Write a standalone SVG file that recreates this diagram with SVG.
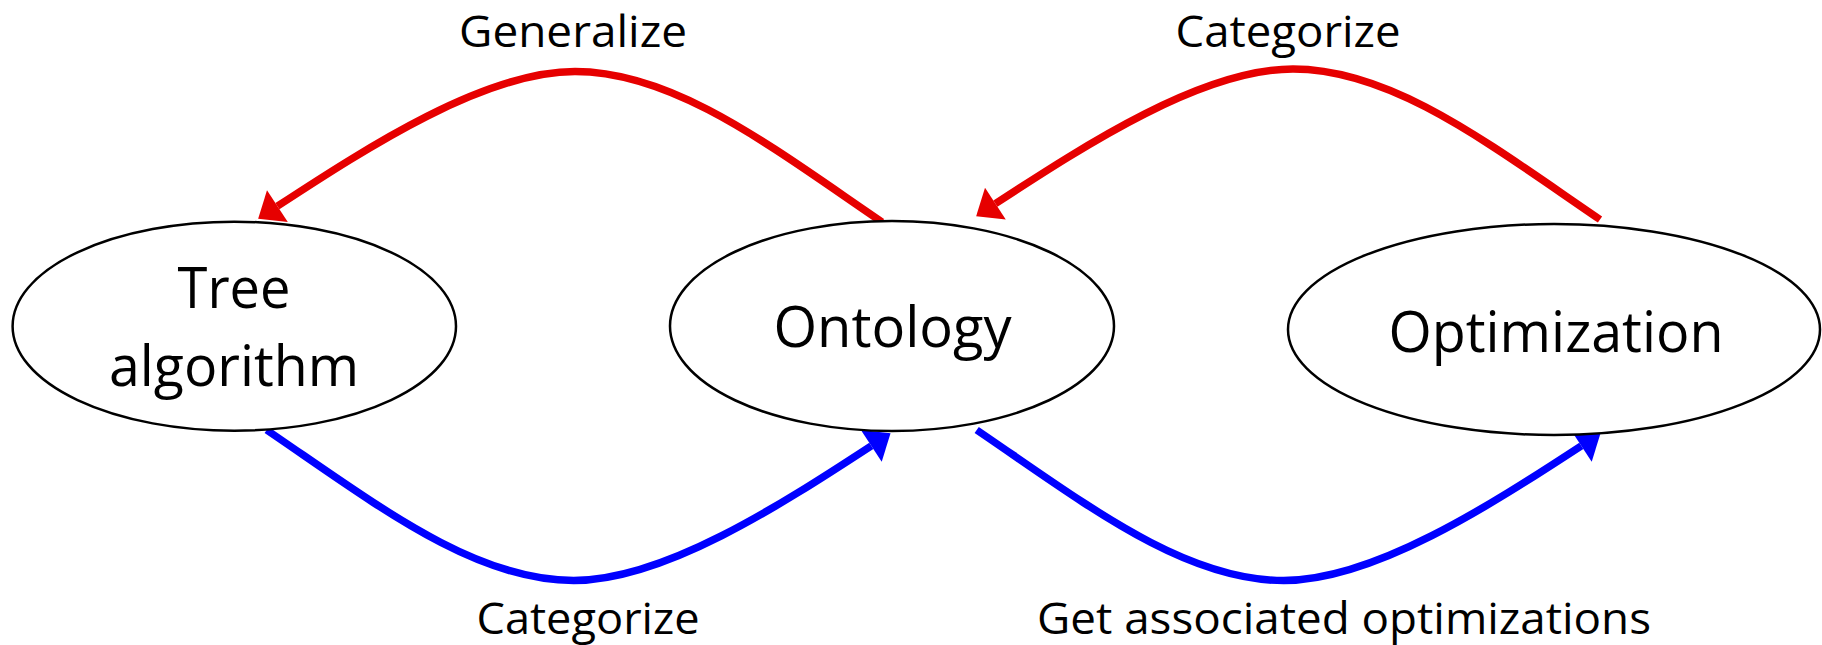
<svg xmlns="http://www.w3.org/2000/svg" width="1822" height="645" viewBox="0 0 1822 645">
  <style>
    .edge { fill: none; stroke-width: 7.5; stroke-linecap: butt; }
    .red { stroke: #E60000; }
    .blue { stroke: #0000FF; }
    .node ellipse { fill: #FFFFFF; stroke: #000000; stroke-width: 2.5; }
    .node text { font-family: "Open Sans", "Noto Sans", sans-serif; font-size: 56px; fill: #000000; text-anchor: middle; }
    .label { font-family: "Open Sans", "Noto Sans", sans-serif; font-size: 44px; fill: #000000; text-anchor: middle; }
  </style>
  <defs>
    <marker id="head-red" markerUnits="userSpaceOnUse" viewBox="0 -20 26 40" markerWidth="26" markerHeight="40" refX="0" refY="0" orient="auto" overflow="visible">
      <path d="M0,-19 L23,0 L0,19 Z" fill="#E60000"/>
    </marker>
    <marker id="head-blue" markerUnits="userSpaceOnUse" viewBox="0 -20 26 40" markerWidth="26" markerHeight="40" refX="0" refY="0" orient="auto" overflow="visible">
      <path d="M0,-19 L23,0 L0,19 Z" fill="#0000FF"/>
    </marker>
  </defs>
  <rect width="1822" height="645" fill="#FFFFFF"/>

  <!-- connectors: arcs over the top (red) and under the bottom (blue) -->
  <g id="connectors">
    <path id="edge-generalize" class="edge red" marker-end="url(#head-red)"
          d="M 882 222 C 772 147.2, 675 71.5, 575 71.5 C 485 71.5, 369.2 146.2, 277.4 206.2"/>
    <path id="edge-categorize-top" class="edge red" marker-end="url(#head-red)"
          d="M 1600 219.5 C 1490 144.7, 1393 69, 1293 69 C 1203 69, 1087.2 143.7, 995.4 203.7"/>
    <path id="edge-categorize-bottom" class="edge blue" marker-end="url(#head-blue)"
          d="M 266.7 430 C 376.7 504.8, 473.7 580.5, 573.7 580.5 C 663.7 580.5, 779.5 505.8, 871.3 445.8"/>
    <path id="edge-get-optimizations" class="edge blue" marker-end="url(#head-blue)"
          d="M 976.7 430 C 1086.7 504.8, 1183.7 580.5, 1283.7 580.5 C 1373.7 580.5, 1489.5 505.8, 1581.3 445.8"/>
  </g>

  <g id="labels">
    <text class="label" x="573" y="47" textLength="228" lengthAdjust="spacingAndGlyphs">Generalize</text>
    <text class="label" x="1288" y="47" textLength="225" lengthAdjust="spacingAndGlyphs">Categorize</text>
    <text class="label" x="588" y="634" textLength="223" lengthAdjust="spacingAndGlyphs">Categorize</text>
    <text class="label" x="1344" y="634" textLength="614" lengthAdjust="spacingAndGlyphs">Get associated optimizations</text>
  </g>

  <g id="node-tree" class="node">
    <ellipse cx="234.3" cy="326.2" rx="221.7" ry="104.5"/>
    <text x="234" y="308" textLength="113" lengthAdjust="spacingAndGlyphs">Tree</text>
    <text x="234" y="386" textLength="250" lengthAdjust="spacingAndGlyphs">algorithm</text>
  </g>

  <g id="node-ontology" class="node">
    <ellipse cx="892" cy="326" rx="222" ry="105"/>
    <text x="892.5" y="347" textLength="238" lengthAdjust="spacingAndGlyphs">Ontology</text>
  </g>

  <g id="node-optimization" class="node">
    <ellipse cx="1554" cy="329.5" rx="266" ry="105.5"/>
    <text x="1556" y="352" textLength="335" lengthAdjust="spacingAndGlyphs">Optimization</text>
  </g>
</svg>
